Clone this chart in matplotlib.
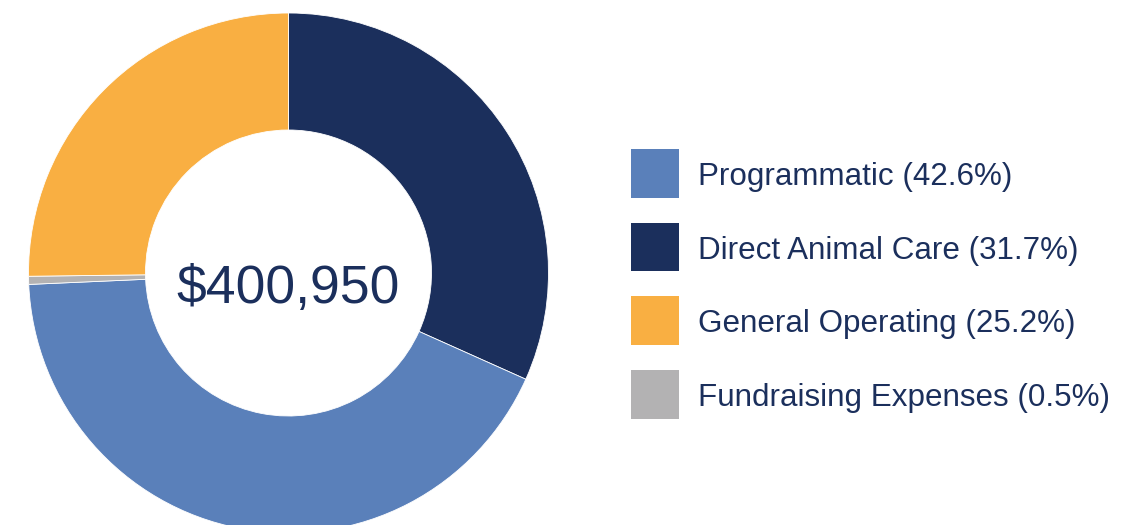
import matplotlib
matplotlib.use("Agg")
import matplotlib.pyplot as plt
from matplotlib.patches import Rectangle

plt.rcParams['font.family'] = ['Liberation Sans', 'DejaVu Sans']

# Data (legend order)
categories = ["Programmatic", "Direct Animal Care", "General Operating", "Fundraising Expenses"]
percents = [42.6, 31.7, 25.2, 0.5]
colors = ["#5A80BA", "#1B2F5C", "#F9AF42", "#B3B2B3"]
total_label = "$400,950"

# Clockwise order from 12 o'clock as drawn in the chart
pie_order = [1, 0, 3, 2]

W, H = 1144, 525
fig = plt.figure(figsize=(W / 100, H / 100), dpi=100)
ax = fig.add_axes([0, 0, 1, 1])

cx, cy, R = 288.5, H - 273, 260
wedge_w = 0.45 * R

ax.pie([percents[i] for i in pie_order],
       colors=[colors[i] for i in pie_order],
       startangle=90, counterclock=False,
       center=(cx, cy), radius=R, frame=True,
       wedgeprops=dict(width=wedge_w, edgecolor='white', linewidth=0.6))
ax.set_xlim(0, W)
ax.set_ylim(0, H)
ax.set_aspect('equal')
ax.axis('off')

text_color = "#1B2F5C"
ax.text(cx, H - 303, total_label, ha='center', va='baseline',
        fontsize=38.5, color=text_color)

# Legend
sq = 48.5
x0 = 630.7
top0 = 149
pitch = 73.7
for k, (c, p, col) in enumerate(zip(categories, percents, colors)):
    top = top0 + k * pitch
    ax.add_patch(Rectangle((x0, H - top - sq), sq, sq, facecolor=col, edgecolor='none'))
    ax.text(698.3, H - (top + 36), f"{c} ({p:.1f}%)", ha='left', va='baseline',
            fontsize=22.6, color=text_color)

fig.savefig("out.png", dpi=100)
